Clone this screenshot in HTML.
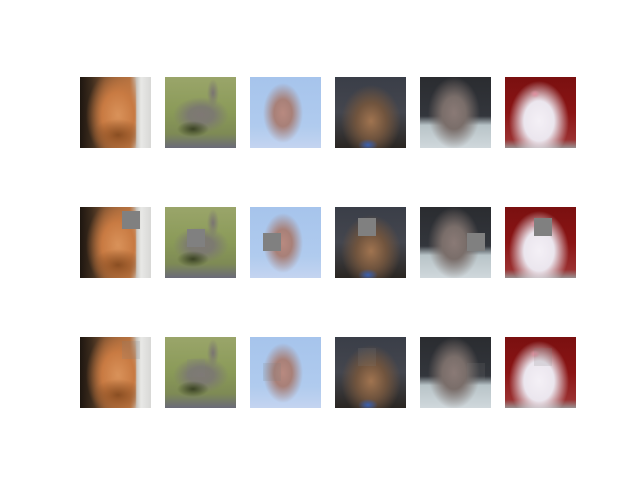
<!DOCTYPE html>
<html><head><meta charset="utf-8">
<style>
html,body{margin:0;padding:0;background:#fff;}
#fig{position:relative;width:640px;height:480px;background:#fff;overflow:hidden;font-family:"Liberation Sans",sans-serif;}
.img{position:absolute;width:71px;height:71px;overflow:hidden;}
.img div{position:absolute;}
.occ{background:#808080;}
</style></head>
<body>
<div id="fig"></div>
<script>
const colX = [80,165,250,335,420,505];
const rowY = [77,207,337];
const rowNames = ['original','occluded','attribution'];
const imageNames = ['cat-1','cat-2','cat-3','dog-1','cat-4','dog-2'];
const occX = [42,22,13,23,47,29];
const occY = [4,22,26,11,26,11];
const occS = 18;

const bgs = [
 'linear-gradient(90deg,rgba(0,0,0,0) 0%,rgba(0,0,0,0) 78%,#c9c6c0 80%,#e8e8e6 86%,#d8d8d6 100%),' +
 'radial-gradient(ellipse 26px 16px at 38px 58px, #8a4e22 0%, rgba(138,78,34,0) 100%),' +
 'radial-gradient(ellipse 32px 46px at 38px 38px, #d9925a 0%, #c87a42 50%, rgba(200,122,66,0) 100%),' +
 'linear-gradient(90deg,#1e1610 0%,#3a2a1c 15%,#7a5030 35%,#b07040 70%,#c9c6c0 80%,#e8e8e6 88%,#d8d8d6 100%)',
 'radial-gradient(ellipse 16px 8px at 28px 52px, #3a4224 0%, rgba(58,66,36,0) 100%),' +
 'radial-gradient(ellipse 28px 18px at 36px 38px, #7e7874 0%, #7c7a70 45%, rgba(124,122,112,0) 100%),' +
 'radial-gradient(ellipse 6px 14px at 48px 16px, #7a7472 0%, rgba(122,116,114,0) 100%),' +
 'linear-gradient(180deg,#9aa56a 0%,#8a9a58 50%,#7e8a55 80%,#6a6a78 100%)',
 'radial-gradient(ellipse 20px 30px at 33px 36px, #b88a80 0%, #a88078 45%, rgba(168,128,120,0) 100%),' +
 'linear-gradient(180deg,#a6c4ec 0%,#b0cbee 70%,#c4d4f0 100%)',
 'radial-gradient(ellipse 10px 6px at 33px 68px, #3a60b0 0%, rgba(58,96,176,0) 100%),' +
 'radial-gradient(ellipse 30px 36px at 36px 44px, #a07450 0%, #70543e 50%, rgba(112,84,62,0) 100%),' +
 'linear-gradient(180deg,#3a3e48 0%,#44464e 50%,#2a2622 100%)',
 'radial-gradient(ellipse 26px 36px at 34px 36px, #8a7a76 0%, #7a6e6a 45%, rgba(122,110,106,0) 100%),' +
 'linear-gradient(180deg,#2a2c30 0%,#33363c 55%,#b8c4c8 68%,#d0d8dc 100%)',
 'radial-gradient(ellipse 5px 4px at 30px 17px, #e090a0 0%, rgba(224,144,160,0) 100%),' +
 'radial-gradient(ellipse 30px 40px at 34px 44px, #f4f0f6 0%, #ebe6ee 50%, rgba(235,230,238,0) 100%),' +
 'linear-gradient(180deg,#7a1010 0%,#8a1414 50%,#9a3030 88%,#9a9090 100%)'
];

const fig = document.getElementById('fig');
for (let r = 0; r < 3; r++) {
  for (let c = 0; c < 6; c++) {
    const d = document.createElement('div');
    d.className = 'img';
    
    
    d.style.left = colX[c] + 'px';
    d.style.top = rowY[r] + 'px';
    d.style.background = bgs[c];
    if (r === 1) {
      const o = document.createElement('div');
      o.className = 'occ';
      
      
      o.style.left = occX[c] + 'px';
      o.style.top = occY[c] + 'px';
      o.style.width = occS + 'px';
      o.style.height = occS + 'px';
      d.appendChild(o);
    }
    if (r === 2) {
      const o = document.createElement('div');
      
      
      o.style.left = occX[c] + 'px';
      o.style.top = occY[c] + 'px';
      o.style.width = occS + 'px';
      o.style.height = occS + 'px';
      o.style.background = 'rgba(128,128,128,0.18)';
      d.appendChild(o);
    }
    fig.appendChild(d);
  }
}
</script>
</body></html>
